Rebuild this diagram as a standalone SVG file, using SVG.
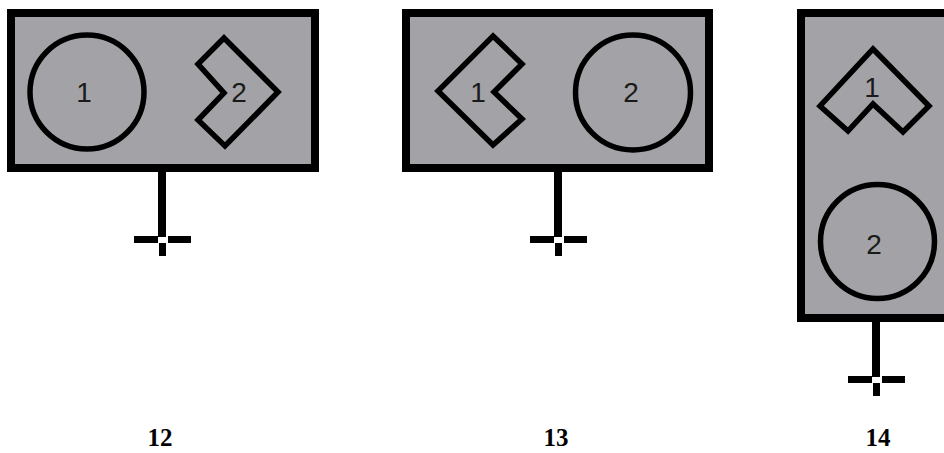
<svg xmlns="http://www.w3.org/2000/svg" width="944" height="453" viewBox="0 0 944 453">
<style>
.box{fill:#a3a3a7;stroke:#000;stroke-width:8}
.sh{fill:none;stroke:#000;stroke-width:5.5;stroke-linejoin:miter}
.num{font-family:"Liberation Sans",Arial,sans-serif;font-size:28px;fill:#1a1a1a;text-anchor:middle}
.cap{font-family:"Liberation Serif","Times New Roman",serif;font-size:25px;font-weight:bold;fill:#000;text-anchor:middle}
.bar{fill:#000}
</style>
<defs>
<g id="term">
<rect class="bar" x="-4" y="0" width="8" height="65"/>
<rect class="bar" x="-28" y="64" width="24" height="7"/>
<rect class="bar" x="6" y="64" width="23" height="7"/>
<rect class="bar" x="-3" y="71" width="7" height="13"/>
</g>
</defs>
<g id="connectors">
<use href="#term" x="162" y="172"/>
<use href="#term" x="558" y="172"/>
<use href="#term" x="876" y="312"/>
</g>
<g id="node12">
<rect class="box" x="11" y="13" width="304" height="155"/>
<circle class="sh" cx="87" cy="92" r="57"/>
<text class="num" x="84" y="102">1</text>
<polygon class="sh" points="224,38 278,92 225,146 198,120 224,93 198,64"/>
<text class="num" x="239" y="102">2</text>
</g>
<g id="node13">
<rect class="box" x="406" y="13" width="303" height="155"/>
<polygon class="sh" points="493,36 522,64 494,92 522,119 493,145 438,91"/>
<text class="num" x="478" y="102">1</text>
<circle class="sh" cx="633" cy="92.5" r="57.5"/>
<text class="num" x="631" y="102">2</text>
</g>
<g id="node14">
<rect class="box" x="801" y="13" width="200" height="305"/>
<polygon class="sh" points="873,49 929,106 903,132 873,104 848,131 820,106"/>
<text class="num" x="872" y="97">1</text>
<circle class="sh" cx="877.5" cy="241.5" r="57"/>
<text class="num" x="874" y="254">2</text>
</g>
<g id="captions">
<text class="cap" x="160" y="446">12</text>
<text class="cap" x="556" y="446">13</text>
<text class="cap" x="878" y="446">14</text>
</g>
</svg>
